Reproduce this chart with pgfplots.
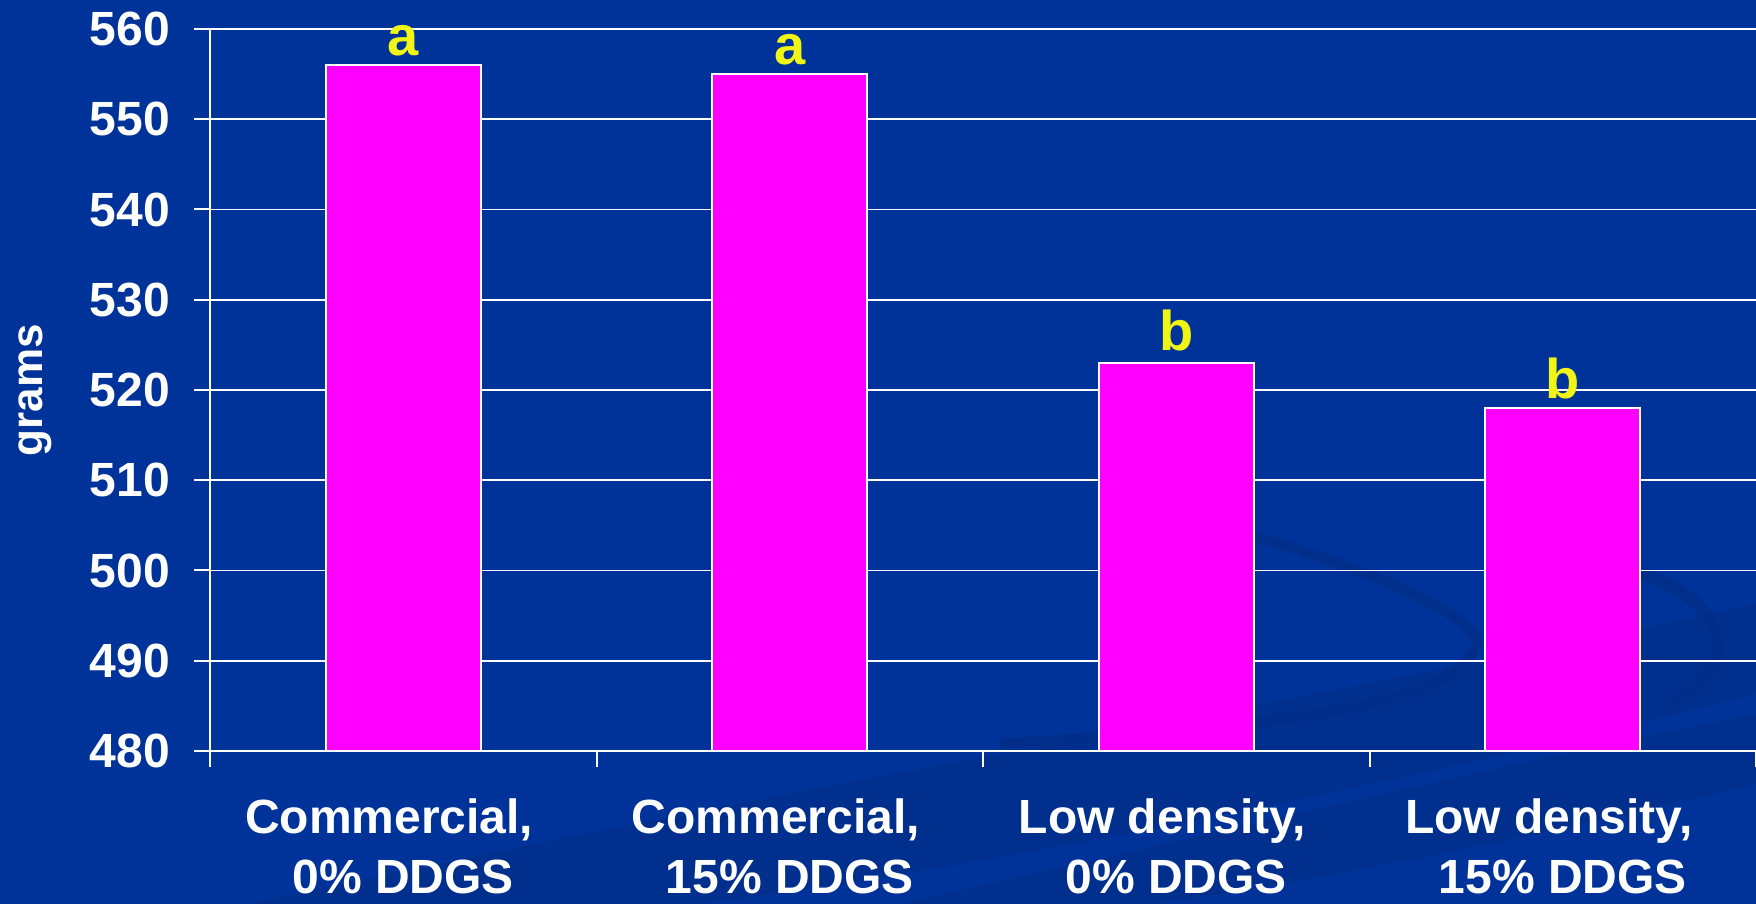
\documentclass[border=0pt]{standalone}
\usepackage{fontspec}
\setmainfont{Liberation Sans}
\usepackage{pgfplots}
\usepackage{pgfplotstable}
\pgfplotsset{compat=1.18}
\usetikzlibrary{backgrounds}

\definecolor{bgblue}{HTML}{003399}
\definecolor{swirl}{HTML}{002D86}
\definecolor{barpink}{HTML}{FF00FF}
\definecolor{lettery}{HTML}{F0F514}

% bar heights in grams
\pgfplotstableread{
idx value
0   556
1   555
2   523
3   518
}\gramstable

\begin{document}
\begin{tikzpicture}
\begin{axis}[
    scale only axis,
    width=773pt, height=361pt,
    xmin=-0.5, xmax=3.5,
    ymin=480, ymax=560,
    ytick={480,490,...,560},
    % ticks between the categories, names as extra ticks without marks
    xtick={-0.5,0.5,1.5,2.5,3.5},
    xticklabels={},
    extra x ticks={0,1,2,3},
    extra x tick labels={{Commercial,\hspace*{14pt}\\0\% DDGS},{Commercial,\hspace*{14pt}\\15\% DDGS},
                 {Low density,\hspace*{14pt}\\0\% DDGS},{Low density,\hspace*{14pt}\\15\% DDGS}},
    extra x tick style={major tick length=0pt, grid=none},
    axis x line*=bottom,
    axis y line*=left,
    axis line style={white, line width=1pt},
    tick align=outside,
    major tick length=8pt,
    tick style={white, line width=1pt},
    ymajorgrids,
    grid style={white, line width=0.9pt},
    /pgf/number format/assume math mode=true,
    ticklabel style={font=\fontsize{24}{30}\selectfont\bfseries, text=white},
    xticklabel style={align=center, yshift=-20.5pt},
    yticklabel style={xshift=-8.5pt},
    ylabel={grams},
    every axis y label/.style={at={(axis description cs:0,0.5)}, xshift=-83.5pt,
        rotate=90, anchor=base, font=\fontsize{22}{26}\selectfont\bfseries, text=white},
    clip mode=individual,
]
\addplot[ybar, bar width=0.4, fill=barpink, draw=white, line width=1pt]
    table[x=idx, y=value] {\gramstable};

\node[anchor=base, text=lettery, font=\fontsize{28}{30}\selectfont\bfseries, yshift=5pt] at (axis cs:0,556) {a};
\node[anchor=base, text=lettery, font=\fontsize{28}{30}\selectfont\bfseries, yshift=5pt] at (axis cs:1,555) {a};
\node[anchor=base, text=lettery, font=\fontsize{28}{30}\selectfont\bfseries, yshift=6pt] at (axis cs:2,523) {b};
\node[anchor=base, text=lettery, font=\fontsize{28}{30}\selectfont\bfseries, yshift=5pt] at (axis cs:3,518) {b};

\coordinate (SW) at (rel axis cs:0,0);
\coordinate (NE) at (rel axis cs:1,1);
\end{axis}

\pgfresetboundingbox
\path[use as bounding box] ([shift={(-105pt,-76.5pt)}]SW) rectangle ([shift={(0pt,14.5pt)}]NE);

\begin{pgfonlayer}{background}
\fill[bgblue] ([shift={(-105pt,-76.5pt)}]SW) rectangle ([shift={(0pt,14.5pt)}]NE);
% faint decorative swoosh of the slide background (pixel units, origin bottom left)
\begin{scope}[shift={([shift={(-105pt,-76.5pt)}]SW)}, x=0.5pt, y=0.5pt]
  \clip (0,0) rectangle (1756,904);
  \fill[swirl, opacity=0.6] (250,0) .. controls (800,120) and (1300,200) .. (1756,300)
      -- (1756,210) .. controls (1400,120) and (1000,40) .. (700,0) -- cycle;
  \fill[swirl, opacity=0.6] (900,0) .. controls (1300,90) and (1550,150) .. (1756,190)
      -- (1756,120) .. controls (1550,70) and (1300,20) .. (1150,0) -- cycle;
  \draw[swirl, line width=5pt, opacity=0.8] (1256,367) .. controls (1420,320) and (1500,270)
      .. (1471,250) .. controls (1440,200) and (1300,180) .. (1000,160);
  \draw[swirl, line width=6pt, opacity=0.8] (1642,331) .. controls (1730,300) and (1740,240)
      .. (1676,201);
\end{scope}
\end{pgfonlayer}
\end{tikzpicture}
\end{document}
